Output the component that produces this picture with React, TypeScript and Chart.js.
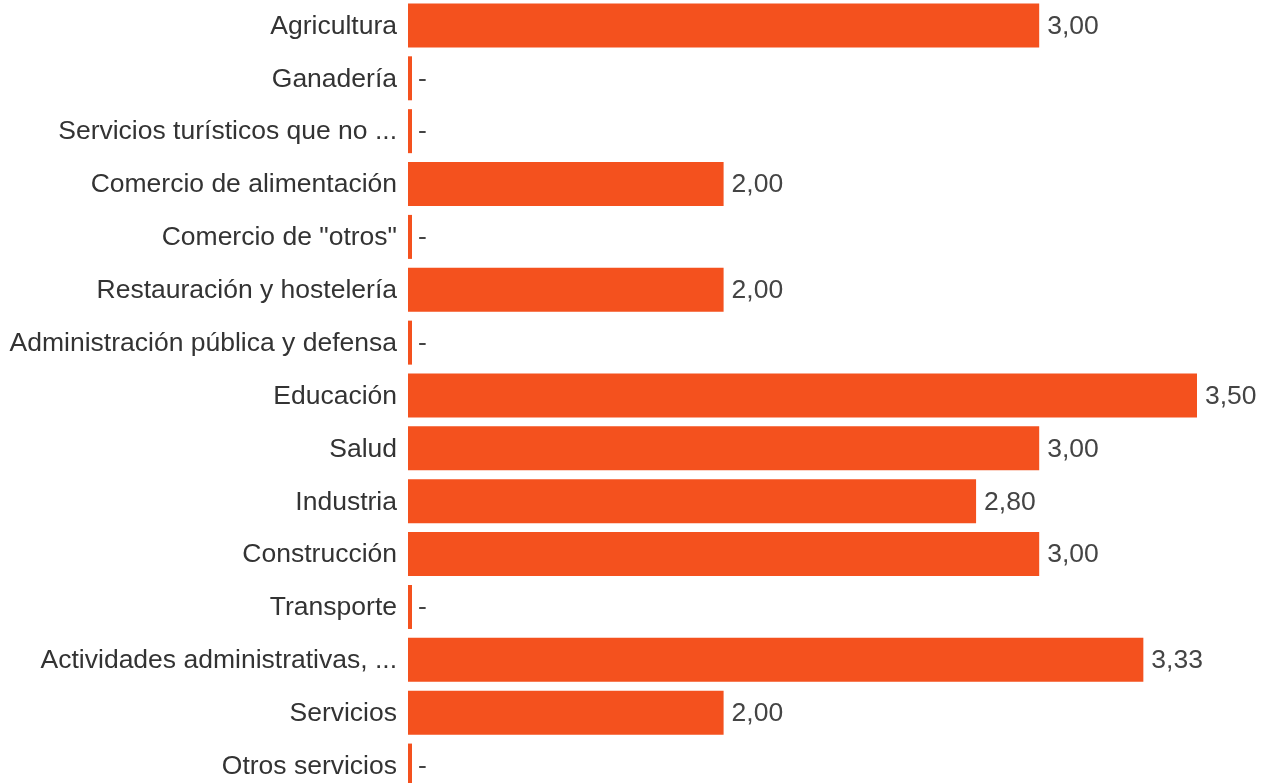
import React, { useEffect, useRef } from "react";
import { Chart, registerables } from "chart.js";

Chart.register(...registerables);

const categories = [
  "Agricultura",
  "Ganadería",
  "Servicios turísticos que no ...",
  "Comercio de alimentación",
  'Comercio de "otros"',
  "Restauración y hostelería",
  "Administración pública y defensa",
  "Educación",
  "Salud",
  "Industria",
  "Construcción",
  "Transporte",
  "Actividades administrativas, ...",
  "Servicios",
  "Otros servicios",
];

const values = [3.0, 0, 0, 2.0, 0, 2.0, 0, 3.5, 3.0, 2.8, 3.0, 0, 3.33, 2.0, 0];

const AXIS_MIN = 1;
const AXIS_MAX = 3.5;
const BAR_COLOR = "#F4511E";
const FONT = "'Liberation Sans', Arial, sans-serif";
const FONT_SIZE = 26.5;

const formatValue = (v: number) => (v === 0 ? "-" : v.toFixed(2).replace(".", ","));

const valueLabels = {
  id: "valueLabels",
  afterDatasetsDraw(chart: any) {
    const ctx = chart.ctx;
    const meta = chart.getDatasetMeta(0);
    ctx.save();
    ctx.font = `${FONT_SIZE}px ${FONT}`;
    ctx.fillStyle = "#444444";
    ctx.textAlign = "left";
    ctx.textBaseline = "middle";
    meta.data.forEach((bar: any, i: number) => {
      ctx.fillText(formatValue(values[i]), bar.x + (values[i] === 0 ? 6 : 8), bar.y + 1);
    });
    ctx.restore();
  },
};

export default function App() {
  const canvasRef = useRef<HTMLCanvasElement | null>(null);

  useEffect(() => {
    if (!canvasRef.current) return;
    const chart = new Chart(canvasRef.current, {
      type: "bar",
      data: {
        labels: categories,
        datasets: [
          {
            data: values.map((v) => Math.max(v, AXIS_MIN)),
            backgroundColor: BAR_COLOR,
            borderWidth: 0,
            barPercentage: 0.832,
            categoryPercentage: 1,
            base: AXIS_MIN,
            minBarLength: 4,
            clip: false,
          },
        ],
      },
      options: {
        indexAxis: "y",
        responsive: true,
        maintainAspectRatio: false,
        animation: false,
        layout: { padding: { left: 0, right: 73, top: 0, bottom: 0 } },
        plugins: {
          legend: { display: false },
          tooltip: { enabled: false },
        },
        scales: {
          x: {
            min: AXIS_MIN,
            max: AXIS_MAX,
            display: false,
          },
          y: {
            grid: { display: false, drawTicks: false },
            border: { display: false },
            ticks: {
              color: "#333333",
              font: { family: FONT, size: FONT_SIZE },
              padding: 11,
              labelOffset: 1,
              autoSkip: false,
            },
            afterFit(scale: any) {
              scale.width = 408;
              scale.paddingTop = 0;
              scale.paddingBottom = 0;
            },
          },
        },
      },
      plugins: [valueLabels],
    });
    return () => chart.destroy();
  }, []);

  return (
    <div
      style={{
        position: "fixed",
        left: 0,
        top: -1,
        width: 1270,
        height: 793,
      }}
    >
      <canvas ref={canvasRef} />
    </div>
  );
}
